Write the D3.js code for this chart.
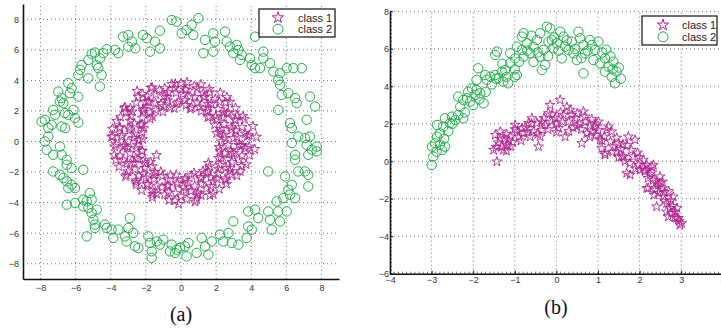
<!DOCTYPE html>
<html>
<head>
<meta charset="utf-8">
<script src="https://cdn.jsdelivr.net/npm/d3@7/dist/d3.min.js"></script>
<style>
  body { margin: 0; background: #fff; }
  text { font-family: "Liberation Sans", Arial, sans-serif; }
</style>
</head>
<body>
<svg id="chart" width="721" height="329"></svg>
<script>
// ---- panel (a): two rings ----
const ringTicks = [-8, -6, -4, -2, 0, 2, 4, 6, 8];

const ringClass1 = [
  [2.3,0.0],[2.99,0.21],[3.49,-0.24],[3.88,0.41],[2.46,0.43],[3.12,0.72],[3.66,0.51],[2.03,0.54],
  [2.26,0.82],[3.11,1.38],[2.85,0.93],[3.62,1.46],[1.91,1.1],[2.43,1.58],[3.18,1.69],[2.7,1.89],
  [1.99,1.67],[2.78,2.59],[2.44,1.91],[1.53,1.58],[2.19,2.6],[1.5,2.0],[2.61,2.9],[1.72,2.46],
  [1.15,1.99],[1.63,3.21],[1.54,2.46],[1.3,2.92],[0.92,2.54],[1.14,3.73],[1.27,3.15],[0.53,2.13],
  [0.52,2.95],[0.29,2.38],[0.77,3.62],[0.24,3.39],[0.0,3.8],[-0.14,2.6],[0.11,3.1],[-0.37,3.48],
  [-0.38,2.17],[-0.74,3.22],[-0.53,3.76],[-0.77,2.69],[-1.23,3.38],[-0.98,2.3],[-0.96,2.95],[-1.71,3.51],
  [-1.45,2.51],[-1.91,2.94],[-1.03,1.94],[-1.88,2.59],[-2.44,2.91],[-1.77,1.9],[-2.03,2.6],[-2.16,2.08],
  [-1.76,1.48],[-2.88,2.17],[-2.16,1.94],[-3.23,2.18],[-2.86,1.65],[-2.23,1.13],[-3.14,1.96],[-2.65,1.18],
  [-3.66,1.33],[-2.96,0.91],[-2.13,0.86],[-3.49,0.87],[-2.66,0.47],[-3.37,0.41],[-3.91,0.83],[-2.19,0.15],
  [-3.0,0.0],[-3.69,-0.19],[-2.4,0.08],[-3.28,-0.34],[-2.56,-0.45],[-3.8,-0.88],[-3.07,-0.43],[-2.21,-0.63],
  [-3.29,-1.2],[-2.58,-1.09],[-3.71,-1.21],[-2.88,-1.4],[-2.08,-1.2],[-3.02,-1.96],[-2.65,-1.41],[-3.16,-2.29],
  [-2.07,-1.74],[-2.41,-2.25],[-1.73,-1.35],[-2.57,-2.66],[-1.99,-2.37],[-1.5,-2.0],[-2.54,-2.82],[-1.9,-2.82],
  [-1.15,-1.99],[-1.63,-3.21],[-1.54,-2.46],[-1.63,-3.65],[-1.09,-3.01],[-0.76,-2.49],[-1.39,-3.43],[-0.73,-2.91],
  [-0.68,-3.84],[-0.27,-2.18],[-0.71,-3.33],[-0.2,-2.79],[0.0,-3.6],[0.16,-3.0],[-0.14,-4.1],[0.25,-2.39],
  [0.57,-3.25],[0.88,-3.8],[0.38,-2.67],[0.96,-3.36],[0.75,-2.07],[1.17,-2.76],[1.14,-3.52],[1.14,-2.34],
  [1.7,-2.94],[1.25,-1.93],[1.83,-3.44],[1.7,-2.35],[2.06,-2.45],[2.59,-2.78],[1.54,-1.97],[2.52,-2.43],
  [2.14,-1.8],[2.88,-2.17],[1.56,-1.41],[2.57,-1.73],[3.38,-1.95],[2.14,-1.09],[2.8,-1.75],[2.65,-1.18],
  [3.29,-1.2],[2.49,-0.76],[3.71,-1.5],[3.01,-0.75],[2.17,-0.38],[3.67,-0.45],[2.84,-0.6],[3.29,-0.23],
  [4.3,0.3],[4.2,-0.5],[4.1,1.0],[-1.4,-0.9],[0.8,-3.95],[-3.95,0.3],[3.9,-0.9],[-2.5,3.3],
  [2.49,0.22],[3.19,0.28],[3.78,0.33],[2.22,0.6],[2.9,0.78],[3.48,0.93],[2.45,1.14],[3.08,1.44],
  [3.53,1.65],[2.05,1.44],[2.62,1.84],[3.11,2.18],[1.63,1.63],[2.12,2.12],[2.55,2.55],[1.55,2.21],
  [1.95,2.78],[2.24,3.19],[1.06,2.27],[1.35,2.9],[1.61,3.44],[0.6,2.22],[0.78,2.9],[0.93,3.48],
  [0.23,2.69],[0.3,3.39],[0.34,3.88],[-0.22,2.49],[-0.28,3.19],[-0.33,3.78],[-0.6,2.22],[-0.78,2.9],
  [-0.93,3.48],[-1.14,2.45],[-1.44,3.08],[-1.65,3.53],[-1.44,2.05],[-1.84,2.62],[-2.18,3.11],[-1.63,1.63],
  [-2.12,2.12],[-2.55,2.55],[-2.21,1.55],[-2.78,1.95],[-3.19,2.24],[-2.27,1.06],[-2.9,1.35],[-3.44,1.61],
  [-2.22,0.6],[-2.9,0.78],[-3.48,0.93],[-2.69,0.23],[-3.39,0.3],[-3.88,0.34],[-2.49,-0.22],[-3.19,-0.28],
  [-3.78,-0.33],[-2.22,-0.6],[-2.9,-0.78],[-3.48,-0.93],[-2.45,-1.14],[-3.08,-1.44],[-3.53,-1.65],[-2.05,-1.44],
  [-2.62,-1.84],[-3.11,-2.18],[-1.63,-1.63],[-2.12,-2.12],[-2.55,-2.55],[-1.55,-2.21],[-1.95,-2.78],[-2.24,-3.19],
  [-1.06,-2.27],[-1.35,-2.9],[-1.61,-3.44],[-0.6,-2.22],[-0.78,-2.9],[-0.93,-3.48],[-0.23,-2.69],[-0.3,-3.39],
  [-0.34,-3.88],[0.22,-2.49],[0.28,-3.19],[0.33,-3.78],[0.6,-2.22],[0.78,-2.9],[0.93,-3.48],[1.14,-2.45],
  [1.44,-3.08],[1.65,-3.53],[1.44,-2.05],[1.84,-2.62],[2.18,-3.11],[1.63,-1.63],[2.12,-2.12],[2.55,-2.55],
  [2.21,-1.55],[2.78,-1.95],[3.19,-2.24],[2.27,-1.06],[2.9,-1.35],[3.44,-1.61],[2.22,-0.6],[2.9,-0.78],
  [3.48,-0.93],[2.69,-0.23],[3.39,-0.3],[3.88,-0.34]
];

const ringClass2 = [
  [-0.53,7.95],[-0.25,7.84],[-1.2,7.25],[-2.17,6.97],[-1.95,6.76],[-3.0,6.97],[-3.3,6.86],[-2.8,6.54],
  [-3.0,6.2],[-2.6,6.1],[-1.77,5.88],[-1.2,6.1],[-1.48,6.54],[-3.76,6.0],[-3.57,5.78],[-4.23,6.04],
  [-4.43,5.78],[-4.9,5.82],[-5.09,5.73],[-4.62,5.45],[-4.8,5.0],[-4.71,4.8],[-5.28,5.34],[-5.66,5.0],
  [-5.75,4.69],[-5.85,4.36],[-5.28,4.14],[-4.62,3.6],[-4.52,4.36],[-6.42,3.82],[-6.23,3.49],[-6.32,3.16],
  [-5.85,2.94],[-6.99,3.27],[-6.8,2.84],[-6.9,2.61],[-6.7,2.51],[-7.28,2.07],[-7.18,1.75],[-6.6,1.86],
  [-6.13,2.07],[-6.04,1.53],[-6.42,1.75],[-7.75,1.42],[-7.94,1.31],[-7.37,1.09],[-7.56,0.88],[-6.8,0.98],
  [-6.6,0.88],[-5.85,1.24],[-7.56,0.33],[-7.75,0.0],[-6.9,-0.33],
  [-7.65,-0.54],[-7.28,-0.87],[-6.8,-0.87],[-6.51,-1.2],[-6.51,-1.52],[-6.23,-1.74],[-5.57,-1.85],[-7.28,-1.96],
  [-6.9,-2.18],[-6.7,-2.39],[-6.51,-2.61],[-6.23,-2.83],[-6.42,-3.05],[-6.04,-3.05],[-6.51,-4.14],[-6.04,-4.03],
  [-5.57,-3.81],[-5.19,-3.37],[-5.37,-3.92],[-5.09,-3.81],[-5.57,-4.25],[-5.28,-4.35],[-4.8,-4.46],[-5.09,-4.68],
  [-4.99,-5.12],[-4.9,-5.44],[-4.9,-5.66],[-5.37,-6.21],[-4.33,-5.44],[-4.23,-5.66],[-3.95,-5.77],[-3.57,-5.77],
  [-3.86,-6.31],[-2.91,-5.01],[-3.0,-5.66],[-2.72,-5.99],[-3.19,-6.21],[-3.1,-6.54],[-2.62,-6.86],[-2.43,-6.97],
  [-1.86,-6.21],[-1.77,-6.64],[-1.38,-6.54],[-1.01,-6.42],[-1.2,-6.75],[-1.67,-7.19],[-1.67,-7.62],[-0.53,-6.75],
  [-0.63,-7.19],[-0.34,-7.29],[-0.25,-7.08],
  [0.23,-6.86],[-0.06,-6.97],[0.42,-6.64],[0.32,-7.52],[0.89,-7.29],[1.18,-6.31],[1.37,-6.86],[1.56,-7.4],
  [1.75,-6.54],[2.22,-6.1],[2.41,-6.54],[2.7,-5.99],[2.89,-6.64],[3.27,-6.75],[2.98,-5.23],[3.74,-6.31],
  [3.83,-5.56],[4.03,-5.77],[3.83,-4.58],[4.22,-4.46],[4.4,-5.01],[4.97,-4.58],[5.07,-5.12],[5.17,-5.77],
  [5.54,-4.58],[5.64,-5.23],[6.02,-4.58],[5.45,-3.92],[5.83,-3.7],[6.21,-3.48],[6.5,-3.7],[6.11,-3.16],
  [6.31,-2.83],[5.93,-2.29],[6.68,-1.96],[7.25,-2.94],[7.25,-2.18],[7.07,-1.96],[4.97,-1.96],[6.5,-1.2],
  [6.5,-0.87],[7.25,-0.87],[7.45,-0.54],[7.73,-0.65],
  [0.99,8.07],[0.61,7.63],[0.32,7.3],[0.04,7.08],[0.7,6.97],[1.37,6.65],[1.84,7.08],[2.51,7.19],
  [1.94,6.54],[2.6,6.54],[1.27,5.78],[1.84,5.88],[2.79,6.21],[3.17,6.32],[3.27,5.99],[2.98,5.78],
  [3.46,5.67],[3.36,5.34],[4.22,6.86],[3.93,5.45],[4.03,5.01],[4.22,4.8],[4.69,5.88],[4.69,5.45],
  [4.5,4.8],[5.07,5.12],[5.26,4.58],[5.64,4.47],[6.02,4.8],[6.88,4.8],[6.4,4.8],[5.54,4.03],
  [5.64,3.71],[5.74,3.05],[6.11,3.16],[6.5,2.84],[6.59,2.51],[7.35,2.94],[7.64,2.29],[5.54,2.07],
  [6.21,1.2],[6.31,0.88],[7.16,1.42],[6.68,0.33],[7.07,0.22],[7.35,0.33],[7.73,-0.33],[6.31,-0.1],
  [7.16,-0.22]
];

// ---- panel (b): two moons ----
const moonXTicks = [-4, -3, -2, -1, 0, 1, 2, 3, 4];
const moonYTicks = [-6, -4, -2, 0, 2, 4, 6, 8];

const moonClass1 = [
  [-1.43,-0.02],[-1.51,0.6],[-1.47,1.4],[-1.35,1.58],[-1.31,0.78],[-1.27,0.6],[-1.19,0.87],[-1.15,1.14],
  [-1.11,1.31],[-0.99,1.94],[-0.95,1.58],[-0.83,1.76],[-0.79,1.49],[-0.67,2.03],[-0.63,1.31],[-0.59,2.29],
  [-0.47,2.03],[-0.43,0.78],[-0.39,1.31],[-0.35,1.67],[-0.27,1.94],[-0.19,2.56],[-0.15,3.0],[-0.11,2.11],
  [-0.03,2.29],[0.09,3.27],[0.05,1.76],[0.21,1.31],[0.17,2.47],[0.29,2.11],[0.33,2.74],[0.37,2.47],
  [0.49,1.85],[0.61,0.96],[0.65,2.65],[0.69,2.38],[0.73,1.49],[0.85,1.58],[0.93,1.85],[1.01,2.11],
  [1.05,1.14],[1.09,0.69],[1.17,0.34],[1.21,1.67],[1.33,1.58],[1.37,0.78],[1.45,0.51],[1.49,0.96],
  [1.61,0.25],[1.69,-0.64],[1.73,1.31],[1.77,-0.11],[1.89,1.14],[1.85,0.25],[1.97,-0.2],[2.01,-0.46],
  [2.09,0.07],[2.17,-0.2],[2.13,-0.55],[2.29,-0.29],[2.33,-1.0],[2.21,-1.44],[2.37,-1.53],[2.49,-0.82],
  [2.45,-1.26],[2.57,-1.89],[2.41,-2.42],[2.65,-2.24],[2.73,-2.51],[2.81,-1.89],[2.85,-2.69],[2.93,-3.04],
  [2.97,-3.4],[2.77,-2.77],[2.69,-2.96],
  [-1.25,1.2],[-1.05,1.0],[-0.9,1.3],[-0.75,1.8],[-0.55,1.6],[-0.3,2.3],[0.0,2.0],[0.1,2.6],
  [0.3,1.6],[0.45,2.3],[0.55,2.0],[0.8,1.9],[0.95,1.4],[1.15,1.3],[1.3,1.05],[1.55,0.65],
  [1.7,0.85],[1.95,0.45],[2.1,-0.35],[2.25,-0.7],[2.4,-1.1],[2.55,-1.45],[2.6,-1.65],[2.75,-2.1],
  [2.9,-2.5],[2.95,-3.2],[-1.4,1.0],[-1.2,0.55],[0.85,2.25],[1.5,0.2],
  [1.77,-0.73],[3.01,-3.31],[2.89,-3.04],[2.65,-2.69],[2.49,-1.17],[2.17,-1.44],[2.13,-0.46],[2.33,-0.2],
  [1.17,0.43],[1.57,0.25],
  [-1.45,0.75],[-1.35,1.2],[-1.2,1.45],[-1.1,0.8],[-1.0,1.7],[-0.85,1.1],[-0.7,1.55],[-0.6,2.0],
  [-0.45,1.45],[-0.35,2.1],[-0.2,1.7],[-0.1,2.5],[0.0,1.55],[0.15,2.1],[0.25,2.9],[0.4,1.8],
  [0.5,2.55],[0.6,1.7],[0.7,2.1],[0.8,1.3],[0.95,2.0],[1.0,1.65],[1.1,1.1],[1.25,1.85],
  [1.35,0.5],[1.45,1.25],[1.6,0.9],[1.65,0.0],[1.8,0.6],[1.9,-0.4],[2.0,0.2],[2.2,-0.9],
  [2.3,-0.6],[2.45,-1.7],[2.55,-1.1],[2.6,-2.1],[2.7,-1.6],[2.8,-2.4],[2.85,-3.0],[2.35,-1.8]
];

const moonClass2 = [
  [-2.99,0.78],[-2.92,0.96],[-2.8,0.87],[-2.68,0.78],[-2.87,1.31],[-2.8,1.49],[-2.87,1.94],[-2.72,1.85],
  [-2.68,2.29],[-2.56,2.03],[-2.51,2.38],[-2.43,2.2],[-2.36,2.47],[-2.24,2.29],[-2.31,2.91],[-2.24,3.27],
  [-2.36,3.45],[-2.15,3.36],[-2.12,3.71],[-2.03,3.89],[-1.95,3.54],[-2.07,3.18],[-1.92,3.8],[-1.75,3.09],
  [-1.83,3.63],[-1.92,4.34],[-1.88,4.96],[-1.71,4.6],[-1.67,4.34],[-1.59,4.51],[-1.47,4.6],[-1.39,4.43],
  [-1.31,4.78],[-1.47,5.67],[-1.43,5.85],[-1.28,4.25],[-1.16,4.16],[-1.23,4.87],[-1.11,5.23],[-1.11,5.76],
  [-0.99,5.49],[-0.95,4.6],[-0.95,6.11],[-0.83,5.94],[-0.79,5.58],[-0.83,6.65],[-0.79,6.83],[-0.71,6.29],
  [-0.63,5.76],[-0.55,6.11],[-0.47,6.47],[-0.39,6.83],[-0.39,5.58],[-0.31,5.94],[-0.35,4.87],[-0.27,5.14],
  [-0.23,7.18],[-0.19,6.38],
  [-0.15,7.09],[-0.11,6.47],[0.01,6.29],[-0.07,6.03],[0.09,6.91],[0.17,6.65],[0.21,6.11],[0.13,5.49],
  [0.29,5.94],[0.37,6.38],[0.41,5.76],[0.53,6.91],[0.57,6.56],[0.65,6.2],[0.69,5.76],[0.81,6.47],
  [0.93,5.94],[1.01,6.38],[0.89,5.4],[1.05,5.23],[1.17,5.49],[1.25,5.05],[1.37,5.31],[1.45,4.78],
  [1.33,4.51],[1.41,4.16],[0.65,4.69],[1.17,4.78],[0.49,5.4],
  [-3.0,-0.2],[-2.96,0.25],[-2.88,0.51],[-2.75,0.6],
  [-2.6,1.6],[-2.5,2.0],[-2.2,2.6],[-2.0,3.0],[-1.85,3.3],[-1.7,3.7],[-1.55,4.1],[-1.45,4.4],
  [-1.2,4.5],[-1.0,4.9],[-0.9,5.3],[-0.7,5.9],[-0.55,5.3],[-0.45,5.8],[-0.2,5.6],[-0.05,6.6],
  [0.05,5.9],[0.25,6.45],[0.45,6.0],[0.6,5.5],[0.75,5.9],[0.85,6.2],[1.1,5.8],[1.2,5.95],
  [1.3,5.6],[1.5,5.0],[1.55,4.4],[1.35,4.9],[-0.6,6.7],[-1.3,5.2],[-1.0,4.5],[-2.7,1.2]
];

const legendLabels = ["class 1", "class 2"];

const MAGENTA = "#b0228d";
const GREEN = "#1fb04a";
const starPath = d3.symbol().type(d3.symbolStar).size(30)();

const svg = d3.select("#chart");

function drawPanel(p) {
  const x = d3.scaleLinear().domain(p.xDomain).range(p.xRange);
  const y = d3.scaleLinear().domain(p.yDomain).range(p.yRange);
  const g = svg.append("g");

  // dotted grid
  const grid = g.append("g")
    .attr("stroke", "#777")
    .attr("stroke-width", 1)
    .attr("stroke-dasharray", "1,3");
  grid.selectAll("line.vx")
    .data(p.xTicks.filter(d => d !== p.xDomain[0]))
    .join("line")
    .attr("x1", d => x(d)).attr("x2", d => x(d))
    .attr("y1", p.yRange[0]).attr("y2", p.yRange[1]);
  grid.selectAll("line.hy")
    .data(p.yTicks.filter(d => d !== p.yDomain[0]))
    .join("line")
    .attr("y1", d => y(d)).attr("y2", d => y(d))
    .attr("x1", p.xRange[0]).attr("x2", p.xRange[1]);

  // minor ticks on the axes (panel b only)
  if (p.minor) {
    const mx = d3.range(p.xDomain[0], p.xDomain[1] + 1e-9, 0.1);
    const my = d3.range(p.yDomain[0], p.yDomain[1] + 1e-9, 0.2);
    g.append("g").attr("stroke", "#444").attr("stroke-width", 0.8)
      .selectAll("line").data(mx).join("line")
      .attr("x1", d => x(d)).attr("x2", d => x(d))
      .attr("y1", p.yRange[0]).attr("y2", p.yRange[0] - 2);
    g.append("g").attr("stroke", "#444").attr("stroke-width", 0.8)
      .selectAll("line").data(my).join("line")
      .attr("y1", d => y(d)).attr("y2", d => y(d))
      .attr("x1", p.xRange[0]).attr("x2", p.xRange[0] + 2);
  }

  // axes
  const xAxis = g.append("g")
    .attr("transform", `translate(0,${p.yRange[0]})`)
    .call(d3.axisBottom(x).tickValues(p.xTicks).tickSize(p.minor ? -3 : 0).tickPadding(p.minor ? 3 : 6).tickSizeOuter(0));
  const yAxis = g.append("g")
    .attr("transform", `translate(${p.xRange[0]},0)`)
    .call(d3.axisLeft(y).tickValues(p.yTicks).tickSize(p.minor ? -3 : 0).tickPadding(p.minor ? 1 : 4).tickSizeOuter(0));
  [xAxis, yAxis].forEach(a => {
    a.select(".domain").attr("stroke", "#111").attr("stroke-width", 1.6);
    a.selectAll(".tick line").attr("stroke", "#111");
    a.selectAll("text").attr("font-size", 9).attr("fill", "#333")
      .style("font-family", '"Liberation Sans", Arial, sans-serif');
  });

  // class 1 stars, class 2 circles
  g.append("g").selectAll("path")
    .data(p.class1).join("path")
    .attr("d", starPath)
    .attr("transform", d => `translate(${x(d[0])},${y(d[1])})`)
    .attr("fill", "none").attr("stroke", MAGENTA).attr("stroke-width", 0.9);
  g.append("g").selectAll("circle")
    .data(p.class2).join("circle")
    .attr("cx", d => x(d[0])).attr("cy", d => y(d[1]))
    .attr("r", 4.7)
    .attr("fill", "none").attr("stroke", GREEN).attr("stroke-width", 1);

  // legend
  const L = p.legend;
  const lg = g.append("g").attr("transform", `translate(${L.x},${L.y})`);
  lg.append("rect").attr("width", L.w).attr("height", L.h)
    .attr("fill", "#fff").attr("stroke", "#222").attr("stroke-width", 1.3);
  lg.append("path").attr("d", d3.symbol().type(d3.symbolStar).size(40)())
    .attr("transform", `translate(${L.mx},${L.h * 0.31})`)
    .attr("fill", "none").attr("stroke", MAGENTA).attr("stroke-width", 1);
  lg.append("circle").attr("cx", L.mx).attr("cy", L.h * 0.72).attr("r", 5)
    .attr("fill", "none").attr("stroke", GREEN).attr("stroke-width", 1);
  lg.selectAll("text").data(legendLabels).join("text")
    .attr("x", L.tx)
    .attr("y", (d, i) => L.h * (i ? 0.72 : 0.31) + 4)
    .attr("font-size", 11).attr("fill", "#222")
    .text(d => d);

  // sub-caption
  svg.append("text")
    .attr("x", p.caption.x).attr("y", p.caption.y)
    .attr("text-anchor", "middle")
    .style("font-family", '"Liberation Serif", "Times New Roman", serif')
    .attr("font-size", 20).attr("fill", "#111")
    .text(p.caption.text);
}

drawPanel({
  xDomain: [-9, 9], yDomain: [-9, 9],
  xRange: [23, 339], yRange: [279, 4],
  xTicks: ringTicks, yTicks: ringTicks,
  class1: ringClass1, class2: ringClass2,
  minor: false,
  legend: { x: 259, y: 9, w: 76, h: 28, mx: 19, tx: 39 },
  caption: { x: 181, y: 321, text: "(a)" }
});

drawPanel({
  xDomain: [-4, 4], yDomain: [-6, 8],
  xRange: [390, 722.8], yRange: [273.7, 11.3],
  xTicks: moonXTicks, yTicks: moonYTicks,
  class1: moonClass1, class2: moonClass2,
  minor: true,
  legend: { x: 642, y: 16, w: 75, h: 29, mx: 21, tx: 40 },
  caption: { x: 556, y: 314, text: "(b)" }
});
</script>
</body>
</html>
